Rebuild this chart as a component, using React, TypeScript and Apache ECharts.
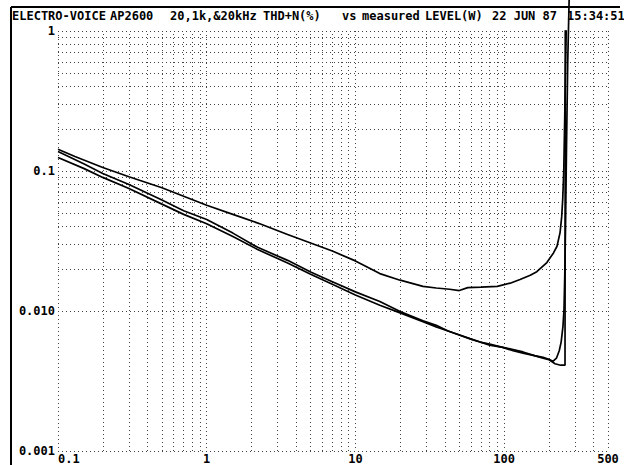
import React, { useEffect, useRef } from "react";
import * as echarts from "echarts";

// THD+N (%) vs measured level (W)
const curveA: [number, number][] = [
  [0.1, 0.143], [0.13, 0.127], [0.2, 0.106], [0.3, 0.091], [0.5, 0.076], [0.7, 0.066],
  [1, 0.057], [1.5, 0.049], [2.3, 0.0418], [3.5, 0.0352], [5, 0.0306], [7, 0.0268],
  [10, 0.0228], [14.6, 0.0185], [20, 0.0166], [28.5, 0.015], [35, 0.0146], [43, 0.0143],
  [50, 0.014], [57, 0.0147], [70, 0.0148], [90, 0.015], [110, 0.0158], [128, 0.0168],
  [150, 0.018], [166, 0.0191], [194, 0.0222], [215, 0.026], [227, 0.029], [238, 0.0363],
  [244, 0.047], [248, 0.063], [252, 0.1], [256, 0.25], [259, 0.55], [262, 1.05],
];

const curveB: [number, number][] = [
  [0.1, 0.138], [0.15, 0.112], [0.2, 0.096], [0.3, 0.08], [0.5, 0.062], [0.7, 0.052],
  [1, 0.045], [1.5, 0.036], [2.2, 0.0285], [3.5, 0.023], [5, 0.019], [7, 0.0162],
  [10, 0.0137], [14.6, 0.0117], [20, 0.0099], [28.5, 0.0085], [35, 0.0079], [42, 0.0072],
  [49, 0.0068], [60, 0.0063], [69, 0.006], [80, 0.0057], [98, 0.0055], [115, 0.0053],
  [134, 0.0051], [160, 0.0048], [183, 0.00467], [200, 0.00452], [213, 0.00437],
  [225, 0.0046], [235, 0.0052], [242, 0.006], [249, 0.0078], [253, 0.0103], [256, 0.018],
  [259, 0.04], [263, 0.15], [268, 0.6], [274, 1.7],
];

const curveC: [number, number][] = [
  [0.1, 0.125], [0.15, 0.104], [0.2, 0.09], [0.3, 0.075], [0.5, 0.058], [0.7, 0.049],
  [1, 0.042], [1.5, 0.034], [2.2, 0.0275], [3.5, 0.022], [5, 0.0183], [7, 0.0155],
  [10, 0.013], [14.6, 0.011], [20, 0.0097], [28.5, 0.0084], [35, 0.0077], [42, 0.0072],
  [49, 0.0068], [60, 0.0063], [69, 0.006], [80, 0.0058], [98, 0.0055], [115, 0.0052],
  [134, 0.005], [160, 0.0048], [183, 0.0046], [200, 0.0045], [220, 0.0042],
  [240, 0.0041], [257, 0.0041], [258, 1.05],
];

const xMinor = [
  0.2, 0.3, 0.4, 0.5, 0.6, 0.7, 0.8, 0.9,
  2, 3, 4, 5, 6, 7, 8, 9,
  20, 30, 40, 50, 60, 70, 80, 90,
  200, 300, 400,
];
const yMinor = [
  0.002, 0.003, 0.004, 0.005, 0.006, 0.007, 0.008, 0.009,
  0.02, 0.03, 0.04, 0.05, 0.06, 0.07, 0.08, 0.09,
  0.2, 0.3, 0.4, 0.5, 0.6, 0.7, 0.8, 0.9,
];

const xTickLabels: Record<string, string> = { "-1": "0.1", "0": "1", "1": "10", "2": "100" };
const yTickLabels: Record<string, string> = { "0": "1", "-1": "0.1", "-2": "0.010", "-3": "0.001" };

const titleParts: [string, number][] = [
  ["ELECTRO-VOICE", 12], ["AP2600", 110], ["20,1k,&20kHz", 170], ["THD+N(%)", 263],
  ["vs", 342], ["measured", 362], ["LEVEL(W)", 425], ["22 JUN 87", 492], ["15:34:51", 567],
];

const FONT = '"DejaVu Sans Mono", "Liberation Mono", monospace';
const gridStyle = { color: "#444", width: 1, type: [1, 3] as number[] };

export default function App() {
  const ref = useRef<HTMLDivElement>(null);
  useEffect(() => {
    if (!ref.current) return;
    const chart = echarts.init(ref.current, null, { renderer: "svg" });
    const lineSeries = (data: [number, number][], clip = true) => ({
      type: "line",
      data,
      showSymbol: false,
      symbol: "none",
      clip,
      lineStyle: { color: "#000", width: 1.7 },
      z: 5,
    });
    chart.setOption({
      animation: false,
      backgroundColor: "#fff",
      grid: { left: 58, right: 16, top: 31, bottom: 13, containLabel: false },
      xAxis: {
        type: "log",
        logBase: 10,
        min: 0.1,
        max: 500,
        axisLine: { show: false },
        axisTick: { show: false },
        splitLine: { show: true, lineStyle: gridStyle },
        axisLabel: {
          margin: 2,
          fontFamily: FONT,
          fontWeight: "bold",
          fontSize: 12,
          color: "#000",
          alignMinLabel: "left",
          showMinLabel: true,
          showMaxLabel: true,
          formatter: (v: number) => {
            if (Math.abs(v - 500) < 1) return "500";
            return xTickLabels[String(Math.round(Math.log10(v)))] ?? "";
          },
        },
      },
      yAxis: {
        type: "log",
        logBase: 10,
        min: 0.001,
        max: 1,
        axisLine: { show: false },
        axisTick: { show: false },
        splitLine: { show: true, lineStyle: gridStyle },
        axisLabel: {
          margin: 3,
          fontFamily: FONT,
          fontWeight: "bold",
          fontSize: 12,
          color: "#000",
          formatter: (v: number) => yTickLabels[String(Math.round(Math.log10(v)))] ?? "",
        },
      },
      series: [
        {
          type: "line",
          data: [],
          markLine: {
            silent: true,
            symbol: "none",
            label: { show: false },
            lineStyle: gridStyle,
            data: [
              ...xMinor.map((v) => ({ xAxis: v })),
              ...yMinor.map((v) => ({ yAxis: v })),
            ],
          },
        },
        lineSeries(curveA),
        lineSeries(curveB, false),
        lineSeries(curveC),
      ],
      graphic: [
        { type: "line", shape: { x1: 11, y1: 7, x2: 620, y2: 7 }, style: { stroke: "#000", lineWidth: 2 } },
        { type: "line", shape: { x1: 11, y1: 7, x2: 11, y2: 465 }, style: { stroke: "#000", lineWidth: 2 } },
        ...titleParts.map(([text, x]) => ({
          type: "text",
          x,
          y: 16,
          style: {
            text,
            fill: "#000",
            font: `bold 12px ${FONT}`,
            verticalAlign: "middle",
          },
        })),
      ],
    });
    return () => chart.dispose();
  }, []);
  return (
    <div
      ref={ref}
      style={{ position: "fixed", left: 0, top: 0, width: 624, height: 465, background: "#fff" }}
    />
  );
}
